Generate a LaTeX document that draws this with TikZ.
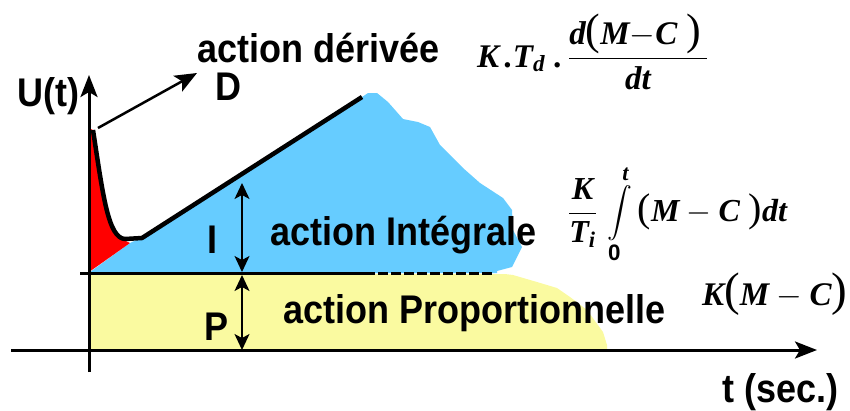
\RequirePackage{fix-cm}
\documentclass[tikz,border=0pt]{standalone}
\usepackage{fontspec}
\usepackage{amsmath}
\setmainfont{Liberation Sans}
\newfontfamily\labfont[FakeStretch=0.9]{Liberation Sans}
\newfontfamily\tnr{Liberation Serif}
\newcommand\tb[1]{\text{\tnr\bfseries\itshape #1}}
\newcommand\bp[2]{\text{\tnr\fontsize{#1}{#1}\selectfont #2}}
\usetikzlibrary{arrows.meta}
\definecolor{skyb}{RGB}{102,204,255}
\definecolor{paley}{RGB}{250,250,160}
\definecolor{redf}{RGB}{255,0,0}
\begin{document}
\begin{tikzpicture}[x=1pt,y=-1pt,
  lab/.style={font=\labfont\bfseries\fontsize{40}{44}\selectfont, inner sep=0pt},
  fm/.style={font=\fontsize{#1}{#1}\selectfont, inner sep=0pt},
  axis/.style={line width=3pt},
  bigtip/.style={-{Stealth[length=22pt,width=17pt,inset=5pt]}},
  dtip/.style={{Stealth[length=16pt,width=15pt,inset=4pt]}-{Stealth[length=16pt,width=15pt,inset=4pt]}}]
\useasboundingbox (0,0) rectangle (850,410);
% fills
\fill[paley] (90,274) -- (505,274) -- (513,275) -- (537,282) -- (557,288) -- (570,297) -- (587,310) -- (603,332) -- (607,345) -- (607,350) -- (90,350) -- cycle;
\fill[skyb] (90,272) -- (130,243) -- (145,236) -- (362,97) -- (368,93) -- (377,93) -- (388,102) -- (403,119) -- (418,122) -- (430,127) -- (440,145) -- (463,168) -- (480,183) -- (503,198) -- (512,210) -- (513,230) -- (522,247) -- (512,267) -- (497,271) -- (497,273) -- (90,273) -- cycle;
\fill[redf] (89,128) -- (89,272) -- (130,243) -- (124,240) .. controls (108,238) and (103,195) .. (93,130) -- cycle;
% coordinates
\coordinate (o) at (89,372);
\coordinate (ytop) at (89,75);
\coordinate (xl) at (11,350);
\coordinate (xr) at (817,350);
\coordinate (p0) at (93,130);
\coordinate (p1) at (125,239);
\coordinate (p2) at (142,238);
\coordinate (p3) at (362,97);
\coordinate (dstart) at (98,128);
\coordinate (dend) at (197,73);
\coordinate (b0) at (80,273);
\coordinate (b1) at (365,273);
\coordinate (b2) at (493,273);
\coordinate (itop) at (242,183);
\coordinate (ibot) at (242,272);
\coordinate (ptop) at (242,275);
\coordinate (pbot) at (242,350);
% axes
\draw[axis, bigtip] (o) -- (ytop);
\draw[axis, bigtip] (xl) -- (xr);
% response curve
\draw[line width=4.5pt, line join=round] (p0) .. controls (103,195) and (108,238) .. (p1) -- (p2) -- (p3);
% P/I boundary
\draw[line width=3pt] (b0) -- (b1);
\draw[line width=3pt, dash pattern=on 10pt off 3pt] (b1) -- (b2);
% D arrow
\draw[line width=2.5pt, -{Stealth[length=22pt,width=18pt,inset=5pt]}] (dstart) -- (dend);
% I and P arrows
\draw[line width=1.5pt, dtip] (itop) -- (ibot);
\draw[line width=1.5pt, dtip] (ptop) -- (pbot);
% labels
\node[lab, anchor=base west] (ad) at (197,62) {action dérivée};
\node[lab, anchor=base west] (dd) at (215,100) {D};
\node[lab, anchor=base west] (ut) at (17,106) {U(t)};
\node[lab, anchor=base] (il) at (212,253) {I};
\node[lab, anchor=base] (pl) at (217,340) {P};
\node[lab, anchor=base west] (ai) at (270,245) {action Intégrale};
\node[lab, anchor=base west] (ap) at (283,323) {action Proportionnelle};
\node[lab, anchor=base west] (ts) at (722,402) {t (sec.)};
% formulas
\node[fm=33, anchor=base west] (f1) at (477,67) {$\tb{K}\,\tb{.}\tb{T}_{\tb{d}}\;\tb{.}\,\dfrac{\tb{d}\bp{44}{(}\tb{M}{-}\tb{C}\;\bp{44}{)}\,}{\tb{dt}}$};
\node[fm=32, anchor=base west] (f2) at (568,221) {$\displaystyle\frac{\tb{K}}{\tb{T}_{\tb{i}}}\,\int\limits_{\mathbf{0}}^{\tb{t}}\bp{40}{(}\tb{M}-\tb{C}\;\bp{40}{)}\tb{dt}$};
\node[fm=33, anchor=base west] (f3) at (702,305) {$\tb{K}\bp{47}{(}\tb{M}-\tb{C}\bp{47}{)}$};
\end{tikzpicture}
\end{document}
